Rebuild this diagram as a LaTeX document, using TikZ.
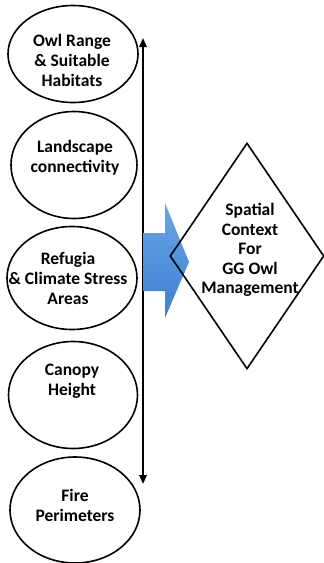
\documentclass[tikz,border=0pt]{standalone}
\usepackage{fontspec}
\setmainfont{Carlito}
\usetikzlibrary{shapes.geometric,arrows.meta}
\definecolor{flowtop}{RGB}{104,166,230}
\definecolor{flowbot}{RGB}{60,128,210}
\begin{document}
\begin{tikzpicture}[x=1pt,y=-1pt,
  labelfont/.style={font=\bfseries\fontsize{17.5}{20}\selectfont},
  factor/.style={ellipse,draw,line width=1.6pt,minimum width=#1,inner sep=0pt},
  caption/.style={labelfont,align=center,inner sep=0pt},
  goal/.style={diamond,draw,line width=1.6pt,inner sep=0pt},
  axis/.style={line width=1.9pt,{Triangle[length=9pt,width=7.5pt]}-{Triangle[length=9pt,width=7.5pt]}},
  flow/.style={draw=none,top color=flowtop,bottom color=flowbot}
]
\useasboundingbox (0,0) rectangle (324,563);

% input layers
\node[factor=130pt,minimum height=97pt]  (range)  at (73,54)  {};
\node[factor=126pt,minimum height=107pt] (conn)   at (74,165) {};
\node[factor=130pt,minimum height=103pt] (refug)  at (72,278) {};
\node[factor=129pt,minimum height=107pt] (canopy) at (73,395) {};
\node[factor=130pt,minimum height=106pt] (fire)   at (75,510) {};

\node[caption] (rangetext)  at (72,60)    {Owl Range\\\& Suitable\\Habitats};
\node[caption] (conntext)   at (75,158)   {Landscape\\connectivity};
\node[caption] (refugtext)  at (68,278)   {Refugia\\\& Climate Stress\\Areas};
\node[caption] (canopytext) at (72,381)   {Canopy\\Height};
\node[caption] (firetext)   at (75,505)   {Fire\\Perimeters};

% axis spanning the layers
\coordinate (axtop) at (143,38);
\coordinate (axbot) at (143,484);
\draw[axis] (axbot) -- (axtop);

% block arrow toward the outcome
\path[flow] (143,233) -- (165,233) -- (165,203) -- (189,262) -- (165,318) -- (165,291) -- (143,291) -- cycle;

% outcome
\node[goal,minimum width=154pt,minimum height=226pt] (ctx) at (247,256) {};
\node[caption,font=\bfseries\fontsize{17.5}{19.5}\selectfont] (ctxlabel) at (250,250)
  {Spatial\\Context\\For\\GG Owl\\Management};
\end{tikzpicture}
\end{document}
